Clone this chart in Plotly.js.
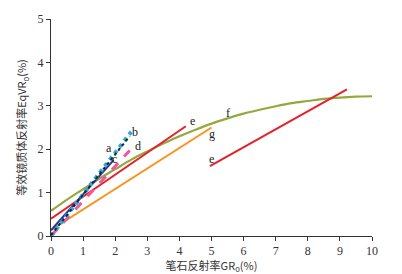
<!DOCTYPE html>
<html><head><meta charset="utf-8">
<script src="https://cdn.plot.ly/plotly-3.0.1.min.js"></script>
<style>body{margin:0;padding:0;background:#fff}#c{width:402px;height:274px}</style>
</head><body><div id="c"></div>
<script>
// Line a (black dotted)
var aX = [0, 2.45];
var aY = [0.02, 2.3];
// Line b (cyan markers)
var bX = [0, 2.5];
var bY = [0, 2.4];
// Line c (navy)
var cX = [0, 1.95];
var cY = [0.13, 1.75];
// Line d (pink dashed)
var dX = [0, 2.45];
var dY = [0, 1.97];
// Line e (red, left)
var e1X = [0, 4.2];
var e1Y = [0.4, 2.53];
// Line e (red, right)
var e2X = [4.95, 9.22];
var e2Y = [1.61, 3.38];
// Curve f (green)
var fX = [0,0.5,1,1.5,2,2.5,3,3.5,4,4.5,5,5.5,6,6.5,7,7.5,8,8.5,9,9.5,10];
var fY = [0.58,0.84,1.08,1.32,1.54,1.76,1.95,2.13,2.30,2.45,2.59,2.71,2.82,2.91,2.99,3.06,3.11,3.16,3.19,3.21,3.22];
// Line g (orange)
var gX = [0, 5];
var gY = [0.14, 2.5];
// Labels
var labText = ['a','b','c','d','e','f','g','e'];
var labX = [1.82, 2.62, 1.98, 2.72, 4.4, 5.5, 5.0, 5.0];
var labY = [2.03, 2.4, 1.77, 2.08, 2.65, 2.83, 2.35, 1.78];

var traces = [
  {x:fX, y:fY, mode:'lines', line:{color:'#94a93d', width:2.2, shape:'spline'}},
  {x:gX, y:gY, mode:'lines', line:{color:'#f7941d', width:2}},
  {x:e1X, y:e1Y, mode:'lines', line:{color:'#e5202a', width:2}},
  {x:e2X, y:e2Y, mode:'lines', line:{color:'#e5202a', width:2}},
  {x:cX, y:cY, mode:'lines', line:{color:'#2e3192', width:2}},
  {x:dX, y:dY, mode:'lines', line:{color:'#ec5a9c', width:3, dash:'dash'}},
  {x:bX, y:bY, mode:'lines', line:{color:'#29abe2', width:4, dash:'dot'}},
  {x:aX, y:aY, mode:'lines', line:{color:'#222', width:2, dash:'dot'}}
];
var ann = labText.map(function(t,i){
  return {x:labX[i], y:labY[i], text:t, showarrow:false, xanchor:'center', yanchor:'middle',
    font:{family:'Liberation Serif', size:12, color:'#222'}};
});
var axFont = {family:'Liberation Serif', size:12, color:'#333'};
var layout = {
  width:402, height:274,
  margin:{l:51, r:30, t:19, b:38},
  showlegend:false,
  paper_bgcolor:'#fff', plot_bgcolor:'#fff',
  xaxis:{range:[0,10], tickvals:[0,1,2,3,4,5,6,7,8,9,10], showgrid:false, zeroline:false,
    showline:true, linecolor:'#333', linewidth:1, ticks:'outside', ticklen:4, tickcolor:'#333',
    tickfont:axFont,
    title:{text:'笔石反射率GR<sub>o</sub>(%)', font:{family:'Noto Sans CJK SC, Liberation Serif', size:11, color:'#333'}, standoff:2}},
  yaxis:{range:[0,5], tickvals:[0,1,2,3,4,5], showgrid:false, zeroline:false,
    showline:true, linecolor:'#333', linewidth:1, ticks:'outside', ticklen:4, tickcolor:'#333',
    tickfont:axFont,
    title:{text:'等效镜质体反射率EqVR<sub>o</sub>(%)', font:{family:'Noto Sans CJK SC, Liberation Serif', size:11, color:'#333'}, standoff:8}},
  annotations:ann
};
Plotly.newPlot('c', traces, layout, {staticPlot:true, displayModeBar:false});
</script></body></html>
